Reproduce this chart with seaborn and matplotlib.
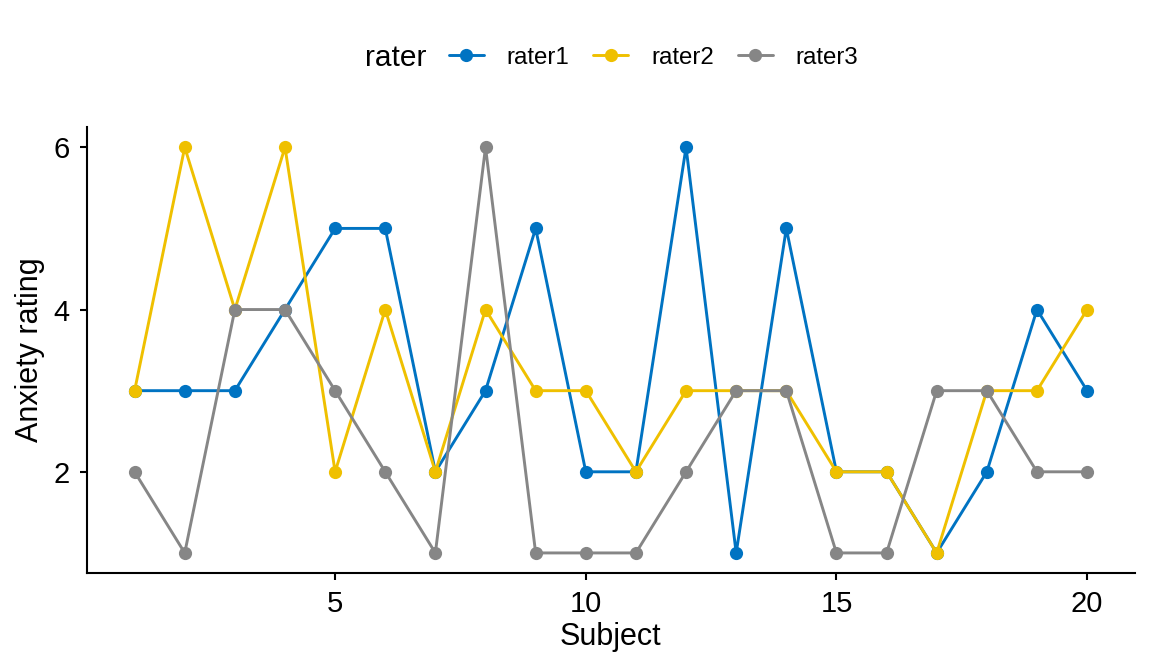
import matplotlib
matplotlib.use("Agg")
import matplotlib.pyplot as plt
import seaborn as sns
import pandas as pd
from matplotlib.lines import Line2D
from matplotlib.offsetbox import HPacker

subjects = list(range(1, 21))
rater1 = [3, 3, 3, 4, 5, 5, 2, 3, 5, 2, 2, 6, 1, 5, 2, 2, 1, 2, 4, 3]
rater2 = [3, 6, 4, 6, 2, 4, 2, 4, 3, 3, 2, 3, 3, 3, 2, 2, 1, 3, 3, 4]
rater3 = [2, 1, 4, 4, 3, 2, 1, 6, 1, 1, 1, 2, 3, 3, 1, 1, 3, 3, 2, 2]
raters = ["rater1", "rater2", "rater3"]
colors = ["#0073C2", "#EFC000", "#868686"]

df = pd.DataFrame({
    "Subject": subjects * 3,
    "rating": rater1 + rater2 + rater3,
    "rater": ["rater1"] * 20 + ["rater2"] * 20 + ["rater3"] * 20,
})

sns.set_style("ticks")
plt.rcParams['font.family'] = ['Liberation Sans', 'DejaVu Sans']
plt.rcParams['text.color'] = 'black'
plt.rcParams['axes.labelcolor'] = 'black'

fig = plt.figure(figsize=(11.52, 6.72), dpi=100)
ax = fig.add_axes([0.0755, 0.147, 0.9095, 0.664])
sns.lineplot(data=df, x="Subject", y="rating", hue="rater", hue_order=raters,
             palette=colors, marker="o", markersize=9.5, markeredgewidth=0,
             linewidth=2.1, ax=ax, legend=False)

ax.set_xlim(0.05, 20.95)
ax.set_ylim(0.75, 6.25)
ax.set_xticks([5, 10, 15, 20])
ax.set_yticks([2, 4, 6])
ax.tick_params(labelsize=21, length=5, width=1.5, colors="black")
ax.tick_params(axis="x", pad=7)
ax.tick_params(axis="y", pad=7.5)
for s in ["left", "bottom"]:
    ax.spines[s].set_linewidth(1.5)
    ax.spines[s].set_color("black")
sns.despine(ax=ax)
ax.set_xlabel("Subject", fontsize=22, labelpad=3)
ax.set_ylabel("Anxiety rating", fontsize=22, labelpad=6)

handles = [Line2D([0], [0], color=c, marker="o", markersize=9.5, linewidth=2.1,
                  markeredgewidth=0) for c in colors]
leg = fig.legend(handles, raters, title="rater", loc="center",
                 bbox_to_anchor=(0.531, 0.914), ncol=3, frameon=False,
                 fontsize=17.3, title_fontsize=21.5, handlelength=1.45,
                 columnspacing=1.0, handletextpad=0.95)
box = leg._legend_box
box.__class__ = HPacker
box.align = "center"
box.sep = 16

fig.savefig("out.png", dpi=100)
